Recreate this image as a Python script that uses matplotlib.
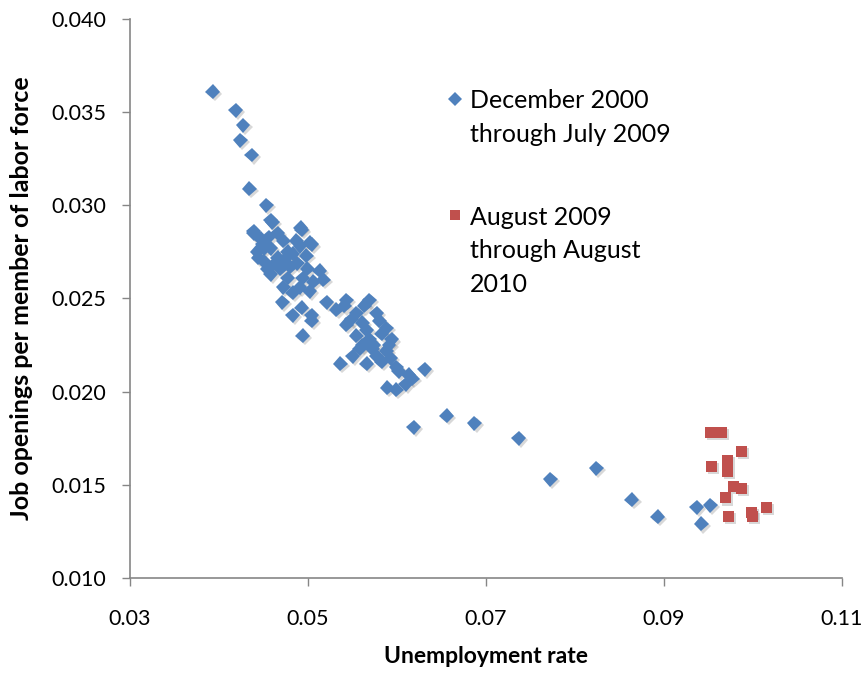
import matplotlib
matplotlib.use("Agg")
import matplotlib.pyplot as plt
import matplotlib.patheffects as pe

# December 2000 through July 2009
blue_x = [0.0393, 0.0419, 0.0427, 0.0424, 0.0437, 0.0434, 0.0453, 0.0458, 0.0492, 0.0504, 0.0439,
          0.0439, 0.0460, 0.0493, 0.0502, 0.0447, 0.0466, 0.0472, 0.0443, 0.0458, 0.0477,
          0.0450, 0.0466, 0.0483, 0.0454, 0.0469, 0.0488, 0.0499, 0.0513, 0.0477, 0.0494,
          0.0506, 0.0517, 0.0472, 0.0491, 0.0502, 0.0483, 0.0471, 0.0493, 0.0483, 0.0504,
          0.0451, 0.0463, 0.0474, 0.0449, 0.0491, 0.0444, 0.0456, 0.0480, 0.0487, 0.0458, 0.0498,
          0.0494, 0.0504,
          0.0521, 0.0543, 0.0569, 0.0532, 0.0554, 0.0577, 0.0543, 0.0561, 0.0588, 0.0554,
          0.0569, 0.0594, 0.0558, 0.0572, 0.0588, 0.0550, 0.0566, 0.0583, 0.0536, 0.0599,
          0.0541, 0.0563, 0.0549, 0.0580, 0.0574, 0.0561, 0.0591, 0.0577, 0.0593, 0.0566, 0.0583,
          0.0602, 0.0613, 0.0631, 0.0589, 0.0599, 0.0610, 0.0617, 0.0656, 0.0619,
          0.0687, 0.0737, 0.0772, 0.0824, 0.0864, 0.0893, 0.0937, 0.0952, 0.0942]
blue_y = [0.0361, 0.0351, 0.0343, 0.0335, 0.0327, 0.0309, 0.0300, 0.0292, 0.0288, 0.0279, 0.0285,
          0.0286, 0.0291, 0.0287, 0.0280, 0.0282, 0.0285, 0.0281, 0.0275, 0.0277, 0.0275,
          0.0270, 0.0272, 0.0274, 0.0266, 0.0266, 0.0269, 0.0266, 0.0265, 0.0261, 0.0261,
          0.0259, 0.0260, 0.0256, 0.0256, 0.0254, 0.0253, 0.0248, 0.0245, 0.0241, 0.0241,
          0.0277, 0.0269, 0.0271, 0.0279, 0.0278, 0.0272, 0.0283, 0.0267, 0.0281, 0.0263, 0.0273,
          0.0230, 0.0238,
          0.0248, 0.0249, 0.0249, 0.0244, 0.0242, 0.0242, 0.0236, 0.0237, 0.0234, 0.0230,
          0.0228, 0.0228, 0.0223, 0.0223, 0.0222, 0.0219, 0.0215, 0.0216, 0.0215, 0.0213,
          0.0246, 0.0246, 0.0239, 0.0238, 0.0225, 0.0225, 0.0225, 0.0219, 0.0218, 0.0233, 0.0231,
          0.0211, 0.0209, 0.0212, 0.0202, 0.0201, 0.0204, 0.0207, 0.0187, 0.0181,
          0.0183, 0.0175, 0.0153, 0.0159, 0.0142, 0.0133, 0.0138, 0.0139, 0.0129]

# August 2009 through August 2010
red_x = [0.0952, 0.0965, 0.0987, 0.0953, 0.0971, 0.0971, 0.0978, 0.0987, 0.0969,
         0.0972, 0.0998, 0.0999, 0.1015]
red_y = [0.0178, 0.0178, 0.0168, 0.0160, 0.0163, 0.0157, 0.0149, 0.0148, 0.0143,
         0.0133, 0.0135, 0.0133, 0.0138]

x_ticks = [0.03, 0.05, 0.07, 0.09, 0.11]
x_tick_labels = ["0.03", "0.05", "0.07", "0.09", "0.11"]
y_ticks = [0.010, 0.015, 0.020, 0.025, 0.030, 0.035, 0.040]
y_tick_labels = ["0.010", "0.015", "0.020", "0.025", "0.030", "0.035", "0.040"]

blue_label = ["December 2000", "through July 2009"]
red_label = ["August 2009", "through August", "2010"]

BLUE = "#4F81BD"
RED = "#C0504D"
GRAY = "#868686"
FONT = ["Lato", "DejaVu Sans"]

plt.rcParams["font.family"] = FONT

fig = plt.figure(figsize=(8.66, 6.73), dpi=100)
ax = fig.add_axes([130 / 866, 1 - 578 / 673, 712 / 866, 559 / 673])

shadow = [pe.SimplePatchShadow(offset=(1.5, -1.5), shadow_rgbFace="#7f7f7f", alpha=0.3), pe.Normal()]

ax.plot(blue_x, blue_y, linestyle="none", marker="D", markersize=7.6,
        color=BLUE, markeredgewidth=0, path_effects=shadow, clip_on=False)
ax.plot(red_x, red_y, linestyle="none", marker="s", markersize=8,
        color=RED, markeredgewidth=0, path_effects=shadow, clip_on=False)

ax.set_xlim(0.03, 0.11)
ax.set_ylim(0.010, 0.040)
ax.set_xticks(x_ticks)
ax.set_xticklabels(x_tick_labels)
ax.set_yticks(y_ticks)
ax.set_yticklabels(y_tick_labels)

for s in ["top", "right"]:
    ax.spines[s].set_visible(False)
for s in ["left", "bottom"]:
    ax.spines[s].set_color(GRAY)
    ax.spines[s].set_linewidth(1.2)

ax.tick_params(axis="x", direction="out", length=6, width=1, color=GRAY,
               labelsize=15.5, pad=16, labelcolor="black")
ax.tick_params(axis="y", direction="out", length=6, width=1, color=GRAY,
               labelsize=15.5, pad=11, labelcolor="black")

ax.set_xlabel("Unemployment rate", fontsize=16.5, fontweight="bold")
ax.xaxis.set_label_coords(0.5, -0.122)
ax.set_ylabel("Job openings per member of labor force", fontsize=18, fontweight="bold")
ax.yaxis.set_label_coords(-0.136, 0.5)

# manual legend
ax.plot([0.4565], [0.857], transform=ax.transAxes, marker="D", markersize=7.6,
        color=BLUE, linestyle="none", markeredgewidth=0, clip_on=False)
ax.plot([0.4565], [0.649], transform=ax.transAxes, marker="s", markersize=7,
        color=RED, linestyle="none", markeredgewidth=0, clip_on=False)
for txt, yy in zip(blue_label, [0.8408, 0.780]):
    ax.text(0.4775, yy, txt, transform=ax.transAxes, fontsize=18, va="baseline", ha="left")
for txt, yy in zip(red_label, [0.6315, 0.5725, 0.5116]):
    ax.text(0.4775, yy, txt, transform=ax.transAxes, fontsize=18, va="baseline", ha="left")

fig.savefig("out.png", dpi=100)
